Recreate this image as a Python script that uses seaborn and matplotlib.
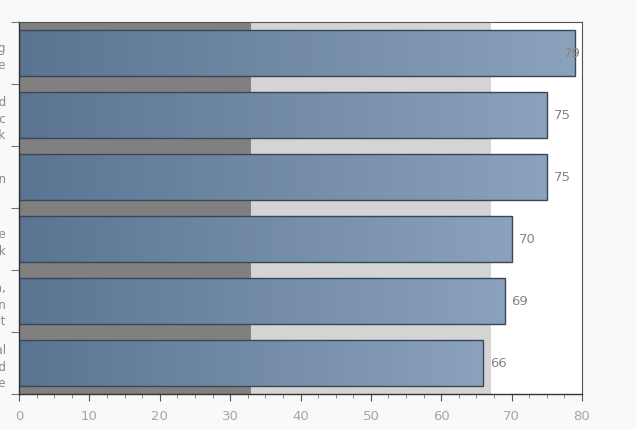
import numpy as np
import pandas as pd
import matplotlib
matplotlib.use("Agg")
import matplotlib.pyplot as plt
import seaborn as sns
from matplotlib.colors import LinearSegmentedColormap

categories = [
    "Effective onboarding\nand training experience",
    "Clear goals and\nregular, specific\nfeedback",
    "Confidence in leadership vision",
    "Recognition for valuable\nwork",
    "Opportunities for growth,\nskills and promotion\nwithin the department",
    "Supportive and collegial\nteam environment and\nculture",
]
values = [79, 75, 75, 70, 69, 66]
band_limits = [33, 67, 80]
band_colors = ["#808080", "#d4d4d4", "#ffffff"]
x_ticks = [0, 10, 20, 30, 40, 50, 60, 70, 80]

sns.set_theme(style="white")
plt.rcParams["font.family"] = ["DejaVu Sans"]

df = pd.DataFrame({"category": categories, "value": values})

fig = plt.figure(figsize=(6.36, 4.31), dpi=100, facecolor="#f8f9fb")
ax = fig.add_axes([19 / 636, 1 - 395 / 431, (582 - 19) / 636, (395 - 23) / 431])

sns.barplot(data=df, y="category", x="value", orient="h", ax=ax,
            width=0.75, color="#6f87a3", edgecolor="#3a4656", linewidth=1.0,
            zorder=2)
bars = list(ax.patches)

cmap = LinearSegmentedColormap.from_list("g", ["#5a7492", "#8ba2bc"])
grad = np.linspace(0, 1, 256).reshape(1, -1)
for patch in bars:
    x0, y0 = patch.get_x(), patch.get_y()
    w, h = patch.get_width(), patch.get_height()
    im = ax.imshow(grad, cmap=cmap, aspect="auto",
                   extent=[x0, x0 + w, y0 + h, y0], zorder=2.5)
    im.set_clip_path(patch)
    patch.set_facecolor("none")
    patch.set_zorder(3)

# background qualitative bands
start = 0
for lim, col in zip(band_limits, band_colors):
    ax.axvspan(start, lim, color=col, zorder=0, lw=0)
    start = lim

ax.set_xlim(0, 80)
ax.set_ylim(len(categories) - 0.5, -0.5)
ax.set_aspect("auto")

for i, v in enumerate(values):
    if v + 1 + 2.6 > 80:
        ax.text(79.8, i, f"{v}", ha="right", va="center", fontsize=9.5,
                color="#858585", zorder=4)
    else:
        ax.text(v + 1, i, f"{v}", ha="left", va="center", fontsize=9.5,
                color="#858585", zorder=4)

ax.set_xticks(x_ticks)
ax.set_xticklabels([str(t) for t in x_ticks])
ax.set_xticks(np.arange(0, 80.1, 2.5), minor=True)
ax.set_yticks(np.arange(-0.5, len(categories), 1.0))
ax.set_yticklabels([])
ax.set_yticks(range(len(categories)), minor=True)
ax.set_yticklabels(categories, minor=True, fontsize=8.5, color="#8a8a8a",
                   linespacing=1.35)
ax.tick_params(axis="x", which="major", length=5, width=0.8, color="#555555",
               labelcolor="#a5a5a5", labelsize=9.5, direction="out", pad=6,
               bottom=True)
ax.tick_params(axis="x", which="minor", length=3, width=0.6, color="#777777",
               direction="out", bottom=True)
ax.tick_params(axis="y", which="major", length=6, width=0.8, color="#777777",
               direction="out", left=True)
ax.tick_params(axis="y", which="minor", length=0, pad=9.5, left=True)
ax.set_xlabel("")
ax.set_ylabel("")

for s in ["left", "bottom"]:
    ax.spines[s].set_color("#333333")
    ax.spines[s].set_linewidth(1.0)
for s in ["top", "right"]:
    ax.spines[s].set_color("#555555")
    ax.spines[s].set_linewidth(0.8)
for s in ax.spines.values():
    s.set_visible(True)
    s.set_zorder(5)

fig.savefig("out.png", dpi=100, facecolor=fig.get_facecolor())
